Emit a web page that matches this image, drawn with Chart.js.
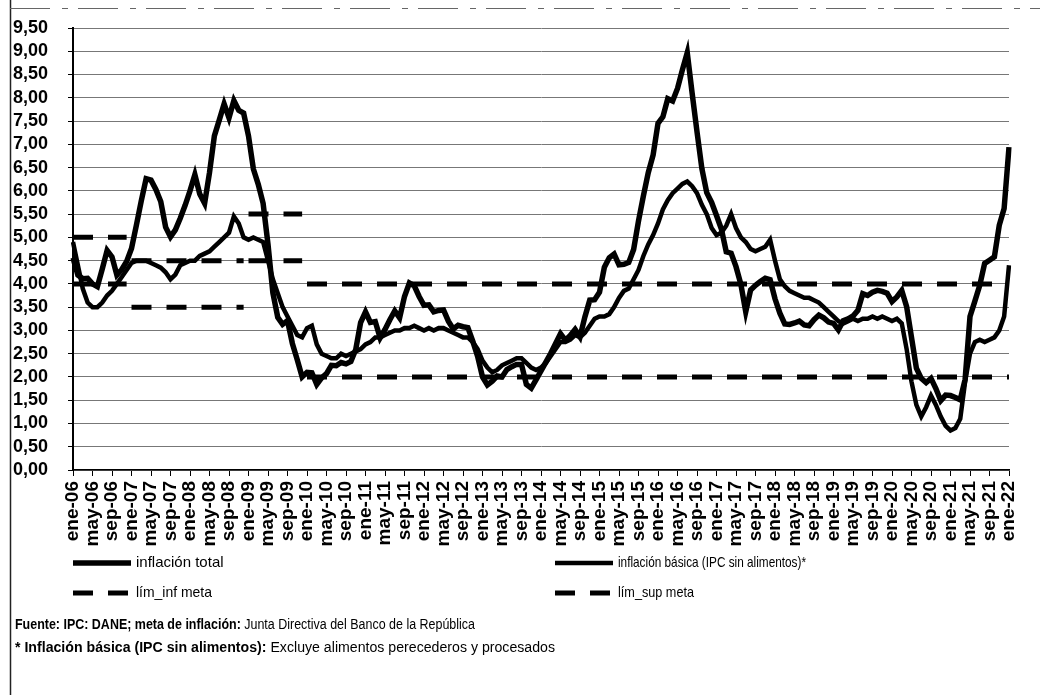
<!DOCTYPE html>
<html>
<head>
<meta charset="utf-8">
<script src="https://cdn.jsdelivr.net/npm/chart.js@4"></script>
<style>
  body { margin: 0; background: #fff; }
  canvas { display: block; }
</style>
</head>
<body>
<canvas id="graficoInflacion" width="1040" height="695"></canvas>
<script>
// etiquetas del eje x: meses y años (ene-06 ... ene-22)
var meses = ['ene', 'feb', 'mar', 'abr', 'may', 'jun', 'jul', 'ago', 'sep', 'oct', 'nov', 'dic'];
var anios = ['06', '07', '08', '09', '10', '11', '12', '13', '14', '15', '16', '17', '18', '19', '20', '21', '22'];

// inflación total, variación anual (%)
var inflacionTotal = [
  4.56, 4.19, 4.11, 4.12, 4.00, 3.94, 4.32, 4.72, 4.58, 4.19, 4.31, 4.48,
  4.76, 5.26, 5.78, 6.26, 6.23, 6.03, 5.77, 5.22, 5.01, 5.16, 5.41, 5.69,
  6.00, 6.35, 5.93, 5.73, 6.39, 7.18, 7.52, 7.87, 7.57, 7.94, 7.73, 7.67,
  7.18, 6.47, 6.14, 5.73, 4.85, 3.81, 3.28, 3.13, 3.21, 2.72, 2.37, 2.00,
  2.10, 2.09, 1.84, 1.98, 2.07, 2.25, 2.24, 2.31, 2.28, 2.33, 2.59, 3.17,
  3.40, 3.17, 3.19, 2.84, 3.02, 3.23, 3.42, 3.27, 3.73, 4.02, 3.96, 3.73,
  3.54, 3.55, 3.40, 3.43, 3.44, 3.20, 3.03, 3.11, 3.08, 3.06, 2.77, 2.44,
  2.00, 1.83, 1.91, 2.02, 2.00, 2.16, 2.22, 2.27, 2.27, 1.84, 1.76, 1.94,
  2.13, 2.32, 2.51, 2.72, 2.93, 2.79, 2.89, 3.02, 2.86, 3.29, 3.65, 3.66,
  3.82, 4.36, 4.56, 4.64, 4.41, 4.42, 4.46, 4.74, 5.35, 5.89, 6.39, 6.77,
  7.45, 7.59, 7.98, 7.93, 8.20, 8.60, 8.97, 8.10, 7.27, 6.48, 5.96, 5.75,
  5.47, 5.18, 4.69, 4.66, 4.37, 3.99, 3.40, 3.87, 3.97, 4.05, 4.12, 4.09,
  3.68, 3.37, 3.14, 3.13, 3.16, 3.20, 3.12, 3.10, 3.23, 3.33, 3.27, 3.18,
  3.15, 3.01, 3.21, 3.25, 3.31, 3.43, 3.79, 3.75, 3.82, 3.86, 3.84, 3.80,
  3.62, 3.72, 3.86, 3.51, 2.85, 2.19, 1.97, 1.88, 1.97, 1.75, 1.49, 1.61,
  1.60, 1.56, 1.51, 1.95, 3.30, 3.63, 3.97, 4.44, 4.51, 4.58, 5.26, 5.62,
  6.94
];

// inflación básica (IPC sin alimentos)
var inflacionBasica = [
  4.90, 4.40, 3.90, 3.60, 3.50, 3.50, 3.60, 3.75, 3.85, 4.00, 4.15, 4.30,
  4.45, 4.50, 4.50, 4.50, 4.45, 4.40, 4.35, 4.25, 4.10, 4.20, 4.40, 4.45,
  4.50, 4.50, 4.60, 4.65, 4.70, 4.80, 4.90, 5.00, 5.10, 5.45, 5.30, 5.00,
  4.95, 5.00, 4.95, 4.90, 4.50, 4.10, 3.80, 3.50, 3.30, 3.10, 2.90, 2.85,
  3.05, 3.10, 2.70, 2.50, 2.45, 2.40, 2.40, 2.50, 2.45, 2.50, 2.55, 2.60,
  2.70, 2.75, 2.85, 2.85, 2.90, 2.95, 3.00, 3.00, 3.05, 3.05, 3.10, 3.05,
  3.00, 3.05, 3.00, 3.05, 3.05, 3.00, 2.95, 2.90, 2.85, 2.85, 2.75, 2.60,
  2.35, 2.20, 2.10, 2.15, 2.25, 2.30, 2.35, 2.40, 2.40, 2.30, 2.20, 2.15,
  2.20, 2.30, 2.45, 2.60, 2.75, 2.75, 2.80, 2.90, 2.85, 2.95, 3.10, 3.25,
  3.30, 3.30, 3.35, 3.50, 3.70, 3.85, 3.90, 4.10, 4.30, 4.60, 4.85, 5.05,
  5.30, 5.60, 5.80, 5.95, 6.05, 6.15, 6.20, 6.10, 5.95, 5.70, 5.50, 5.20,
  5.05, 5.10, 5.25, 5.50, 5.20, 5.00, 4.90, 4.75, 4.70, 4.75, 4.80, 4.95,
  4.50, 4.10, 3.95, 3.85, 3.80, 3.75, 3.70, 3.70, 3.65, 3.60, 3.50, 3.40,
  3.30, 3.20, 3.15, 3.20, 3.25, 3.20, 3.25, 3.25, 3.30, 3.25, 3.30, 3.25,
  3.20, 3.25, 3.15, 2.60, 1.90, 1.40, 1.15, 1.35, 1.60, 1.40, 1.15, 0.95,
  0.85, 0.90, 1.10, 1.90, 2.50, 2.75, 2.80, 2.75, 2.80, 2.85, 3.00, 3.30,
  4.40
];

// rango meta de inflación por año (2006 ... 2022)
var limInfAnual = [4.0, 3.5, 3.5, 4.5, 2.0, 2.0, 2.0, 2.0, 2.0, 2.0, 2.0, 2.0, 2.0, 2.0, 2.0, 2.0, 2.0];
var limSupAnual = [5.0, 4.5, 4.5, 5.5, 4.0, 4.0, 4.0, 4.0, 4.0, 4.0, 4.0, 4.0, 4.0, 4.0, 4.0, 4.0, 4.0];

var etiquetas = [];
anios.forEach(function (a) {
  meses.forEach(function (m) {
    if (etiquetas.length < inflacionTotal.length) etiquetas.push(m + '-' + a);
  });
});
var limInf = etiquetas.map(function (e, i) { return limInfAnual[Math.floor(i / 12)]; });
var limSup = etiquetas.map(function (e, i) { return limSupAnual[Math.floor(i / 12)]; });

var fuente = '"Liberation Sans", Arial, sans-serif';

// sin trazo vertical cuando cambia la meta de un año a otro
var saltoMeta = {
  borderColor: function (c) { return c.p0.parsed.y !== c.p1.parsed.y ? 'rgba(0,0,0,0)' : undefined; }
};

// marco del recorte
var marco = {
  id: 'marco',
  afterDraw: function (chart) {
    var ctx = chart.ctx;
    ctx.save();
    ctx.strokeStyle = '#222';
    ctx.lineWidth = 1.5;
    ctx.beginPath();
    ctx.moveTo(10.5, 0);
    ctx.lineTo(10.5, 695);
    ctx.stroke();
    ctx.strokeStyle = '#666';
    ctx.lineWidth = 1;
    ctx.setLineDash([40, 12, 6, 10]);
    ctx.beginPath();
    ctx.moveTo(10, 8.5);
    ctx.lineTo(1040, 8.5);
    ctx.stroke();
    ctx.restore();
  }
};

function textoMixto(ctx, partes, x, y, ancho) {
  var total = 0;
  partes.forEach(function (p) { ctx.font = p.font; total += ctx.measureText(p.t).width; });
  ctx.save();
  ctx.translate(x, y);
  ctx.scale(ancho / total, 1);
  var pos = 0;
  partes.forEach(function (p) {
    ctx.font = p.font;
    ctx.fillText(p.t, pos, 0);
    pos += ctx.measureText(p.t).width;
  });
  ctx.restore();
}

// leyenda en dos columnas y notas al pie
var leyenda = {
  id: 'leyenda',
  afterDraw: function (chart) {
    var ctx = chart.ctx;
    var items = [
      { ds: 0, x: 73, y: 563, ancho: 108 },
      { ds: 1, x: 555, y: 563, ancho: 188 },
      { ds: 2, x: 73, y: 593, ancho: 76 },
      { ds: 3, x: 555, y: 593, ancho: 76 }
    ];
    ctx.save();
    items.forEach(function (it) {
      var ds = chart.data.datasets[it.ds];
      ctx.strokeStyle = ds.borderColor;
      ctx.lineWidth = ds.borderWidth;
      ctx.setLineDash(ds.borderDash || []);
      ctx.beginPath();
      ctx.moveTo(it.x, it.y);
      ctx.lineTo(it.x + 58, it.y);
      ctx.stroke();
      ctx.setLineDash([]);
      ctx.fillStyle = '#000';
      ctx.font = '15px ' + fuente;
      ctx.textBaseline = 'middle';
      ctx.fillText(ds.label, it.x + 63, it.y, it.ancho);
    });
    ctx.textBaseline = 'middle';
    textoMixto(ctx, [
      { t: 'Fuente: IPC: DANE; meta de inflación: ', font: 'bold 14px ' + fuente },
      { t: 'Junta Directiva del Banco de la República', font: '14px ' + fuente }
    ], 15, 625, 460);
    textoMixto(ctx, [
      { t: '* Inflación básica (IPC sin alimentos): ', font: 'bold 14px ' + fuente },
      { t: 'Excluye alimentos perecederos y procesados', font: '14px ' + fuente }
    ], 15, 648, 540);
    ctx.restore();
  }
};

var ctxI = document.getElementById('graficoInflacion').getContext('2d');
var graficoInflacion = new Chart(ctxI, {
  type: 'line',
  data: {
    labels: etiquetas,
    datasets: [{
      label: 'inflación total',
      data: inflacionTotal,
      borderColor: '#000',
      borderWidth: 5.5,
      pointRadius: 0,
      tension: 0
    }, {
      label: 'inflación básica (IPC sin alimentos)*',
      data: inflacionBasica,
      borderColor: '#000',
      borderWidth: 4.5,
      pointRadius: 0,
      tension: 0
    }, {
      label: 'lím_inf meta',
      data: limInf,
      borderColor: '#000',
      borderWidth: 5,
      borderDash: [20, 15],
      pointRadius: 0,
      segment: saltoMeta
    }, {
      label: 'lím_sup meta',
      data: limSup,
      borderColor: '#000',
      borderWidth: 5,
      borderDash: [20, 15],
      pointRadius: 0,
      segment: saltoMeta
    }]
  },
  options: {
    responsive: false,
    animation: false,
    devicePixelRatio: 1,
    layout: { padding: { left: 13, top: 28, right: 31, bottom: 0 } },
    plugins: {
      legend: { display: false },
      tooltip: { enabled: false }
    },
    scales: {
      x: {
        afterFit: function (scale) { scale.height = 225; },
        grid: {
          drawOnChartArea: false,
          drawTicks: true,
          tickLength: 6,
          color: function (c) { return c.index % 4 === 0 ? '#000' : 'rgba(0,0,0,0)'; }
        },
        border: { display: true, color: '#000', width: 1.5, dash: [2, 2] },
        ticks: {
          autoSkip: false,
          minRotation: 90,
          maxRotation: 90,
          padding: 5,
          color: '#000',
          font: { family: fuente, size: 19, weight: 'bold' },
          callback: function (v, i) { return i % 4 === 0 ? etiquetas[i] : ''; }
        }
      },
      y: {
        min: 0,
        max: 9.5,
        afterFit: function (scale) { scale.width = 60; },
        grid: {
          color: '#777',
          lineWidth: 1,
          tickLength: 5,
          tickColor: '#000'
        },
        border: { display: true, color: '#000', width: 2 },
        ticks: {
          stepSize: 0.5,
          autoSkip: false,
          crossAlign: 'far',
          padding: 4,
          color: '#000',
          font: { family: fuente, size: 18, weight: 'bold' },
          callback: function (v) { return v.toFixed(2).replace('.', ','); }
        }
      }
    }
  },
  plugins: [marco, leyenda]
});
</script>
</body>
</html>
